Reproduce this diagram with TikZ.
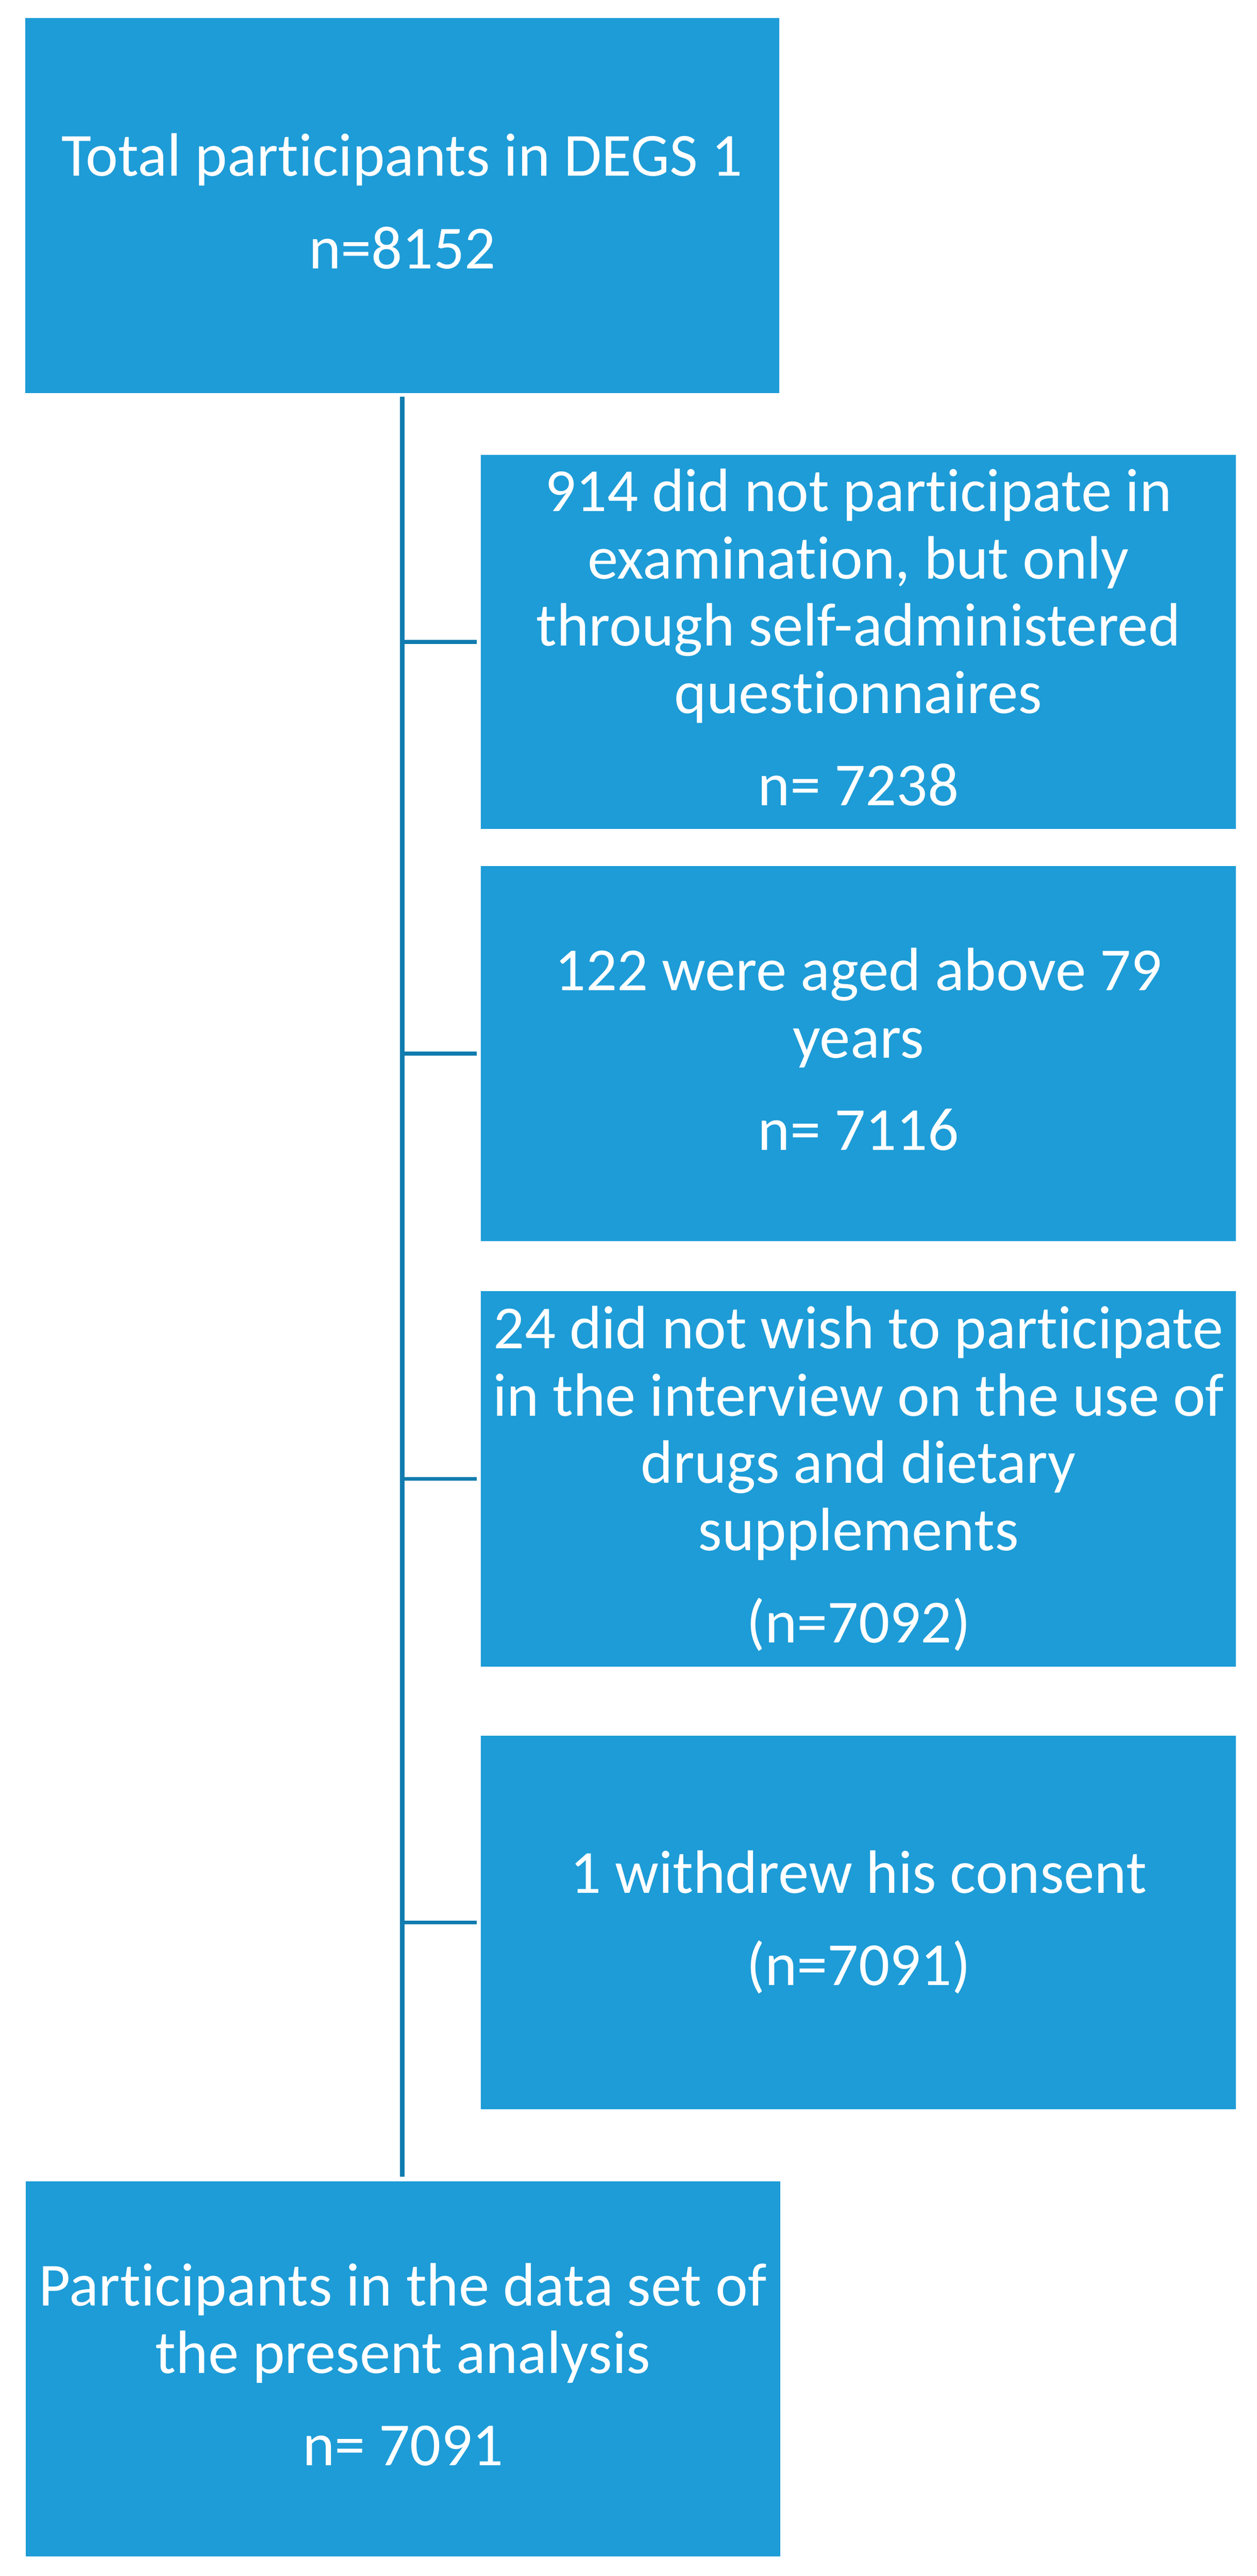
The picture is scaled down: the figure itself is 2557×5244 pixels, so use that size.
\documentclass[tikz,border=0pt]{standalone}
\usepackage{fontspec}
\setmainfont{Carlito}[Ligatures=NoCommon]
\definecolor{boxblue}{RGB}{29,156,215}
\definecolor{lineblue}{RGB}{16,124,175}
\newcommand\topS{\rule{0pt}{32.5pt}}
\newcommand\botS{\rule[-12pt]{0pt}{12pt}}
\tikzset{
  flowbox/.style={rectangle, fill=boxblue, draw=none, inner sep=0pt, outer sep=0pt,
    text=white, align=center, font=\fontsize{37.4pt}{41.1pt}\selectfont,
    minimum width=460.8pt, minimum height=228.9pt},
  spine/.style={draw=lineblue, line width=2.7pt},
  conn/.style={draw=lineblue, line width=2.4pt}
}
\begin{document}
\begin{tikzpicture}[x=0.3pt,y=-0.3pt]
\useasboundingbox (0,0) rectangle (2557,5244);
\node[flowbox, minimum width=460.5pt] (b1) at (818.5,418.5)
  {\topS Total participants in DEGS 1\\[15.3pt] n=8152\botS};
\node[flowbox, minimum height=228.3pt] (b2) at (1747,1306.5)
  {\topS 914 did not participate in\\ examination, but only\\ through self-administered\\ questionnaires\\[15.3pt] n= 7238\botS};
\node[flowbox, minimum height=229.2pt] (b3) at (1747,2144.5)
  {\topS 122 were aged above 79\\ years\\[15.3pt] n= 7116\botS};
\node[flowbox, minimum height=229.2pt] (b4) at (1747,3010.6)
  {\topS 24 did not wish to participate\\ in the interview on the use of\\ drugs and dietary\\ supplements\\[15.3pt] (n=7092)\botS};
\node[flowbox, minimum height=228.3pt] (b5) at (1747,3913.5)
  {\topS 1 withdrew his consent\\[15.3pt] (n=7091)\botS};
\node[flowbox] (b6) at (820,4822.5)
  {\topS Participants in the data set of\\ the present analysis\\[15.3pt] n= 7091\botS};
\coordinate (sp) at (818.5,0);
\draw[spine, shorten <=2.4pt, shorten >=3pt] (b1.south -| sp) -- (b6.north -| sp);
\draw[conn, shorten >=2.7pt] (b2.west -| sp) -- (b2.west);
\draw[conn, shorten >=2.7pt] (b3.west -| sp) -- (b3.west);
\draw[conn, shorten >=2.7pt] (b4.west -| sp) -- (b4.west);
\draw[conn, shorten >=2.7pt] (b5.west -| sp) -- (b5.west);
\end{tikzpicture}
\end{document}
